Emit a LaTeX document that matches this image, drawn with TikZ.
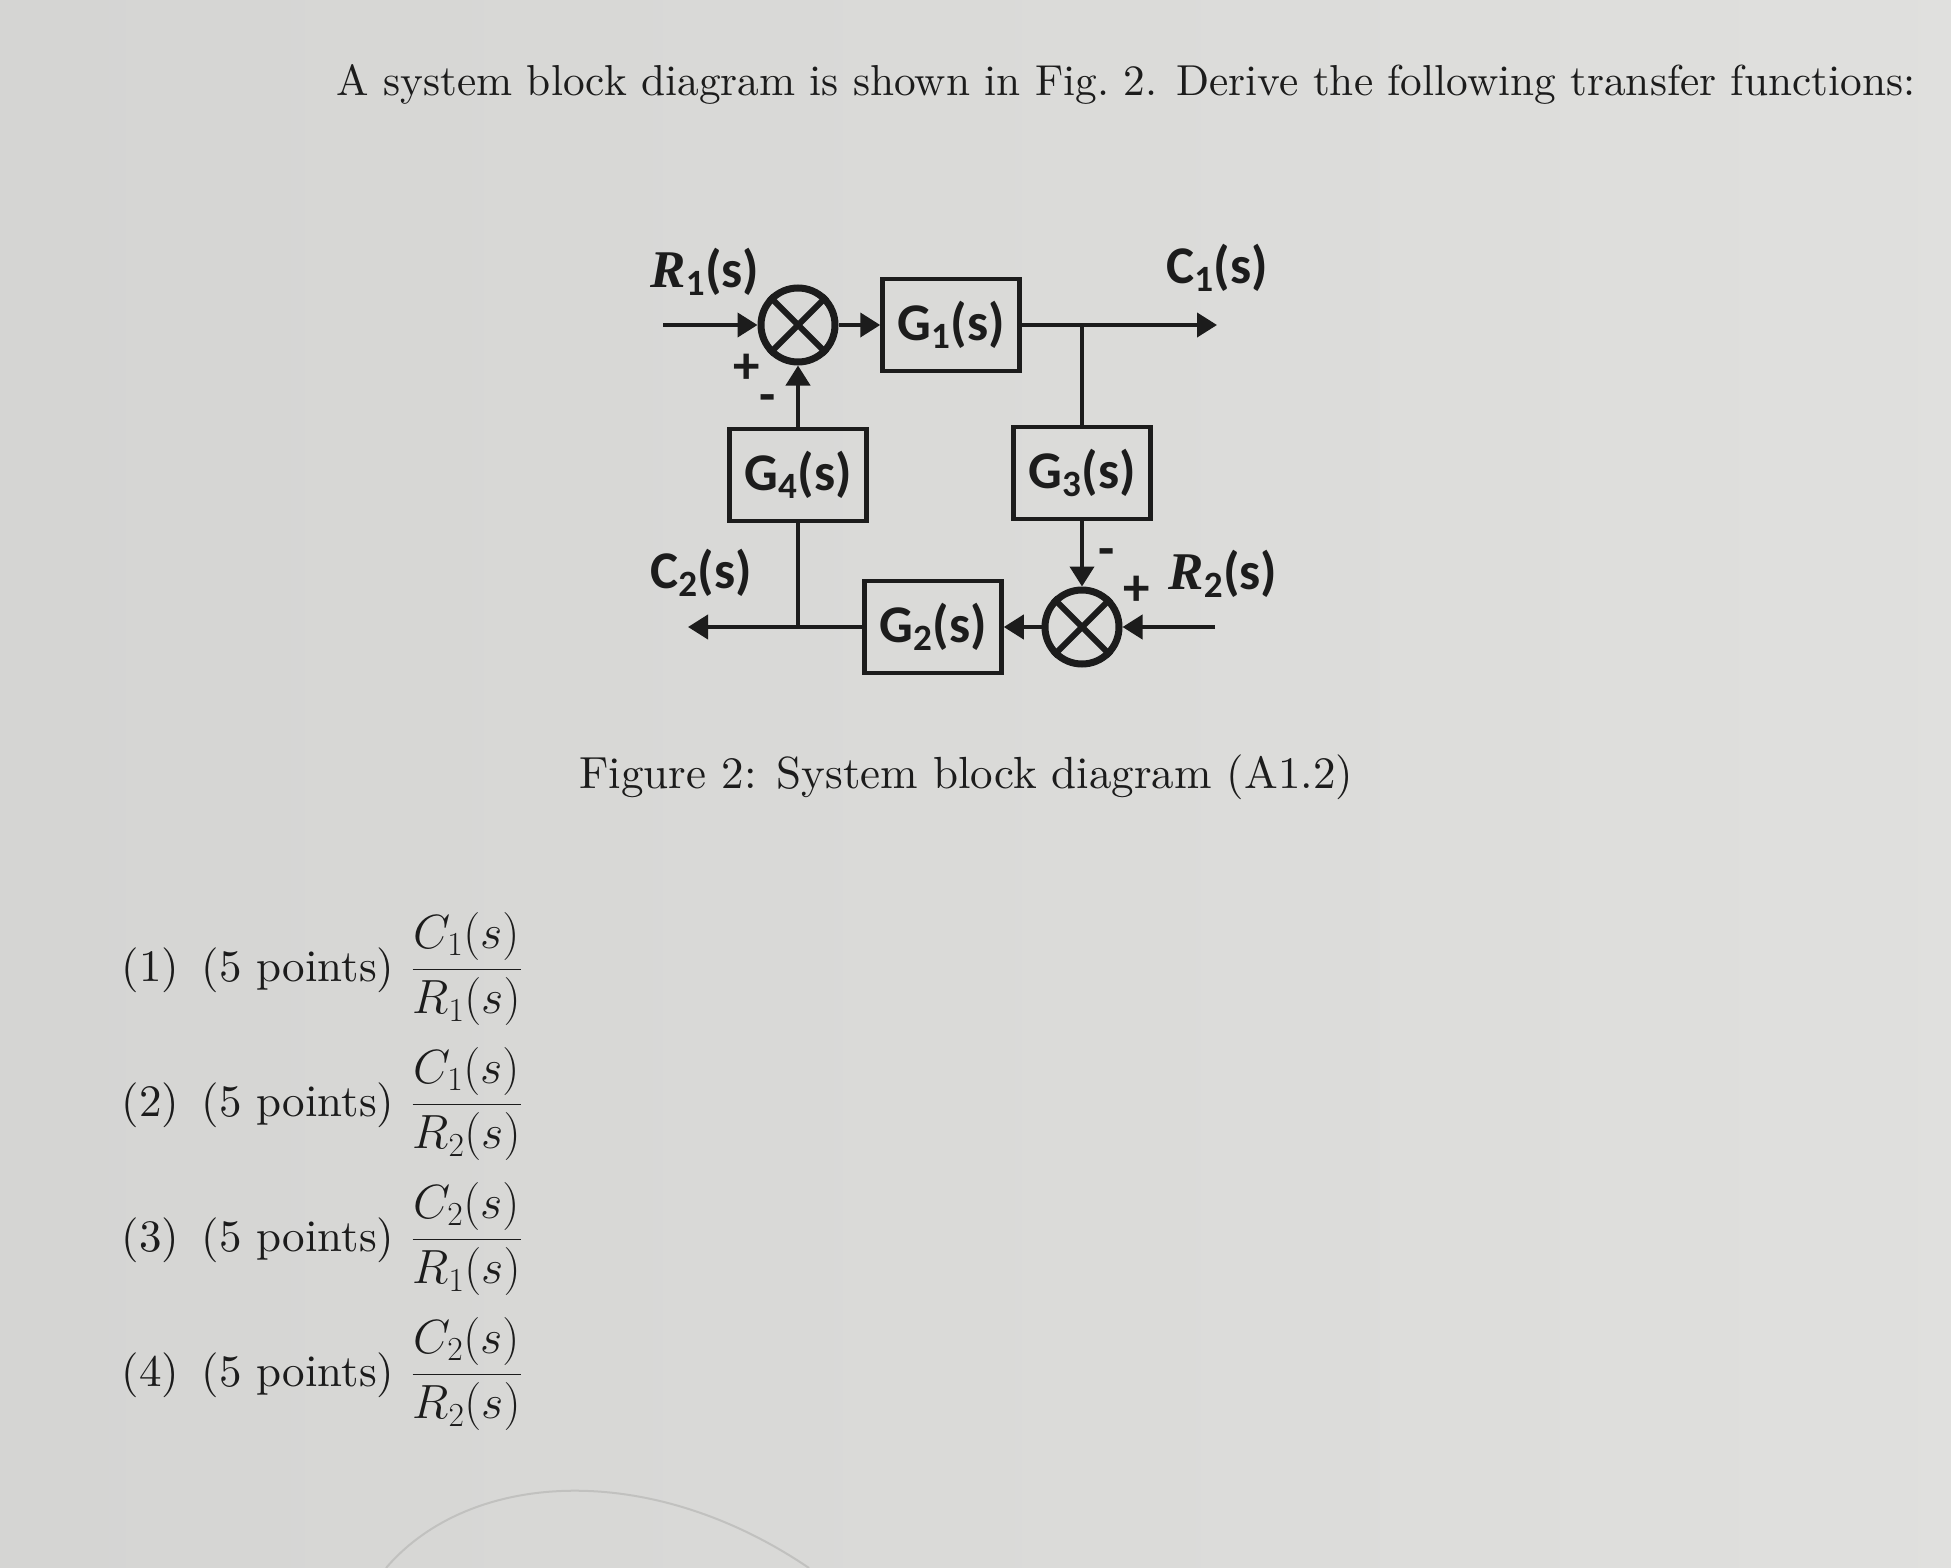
\RequirePackage{fix-cm}
\documentclass[tikz,border=0pt]{standalone}
\usepackage{amsmath}
\usepackage{fontspec}
\setmainfont{lmroman10-regular.otf}[ItalicFont=lmroman10-italic.otf, BoldFont=lmroman10-bold.otf]
\newfontfamily\diagfont{Carlito}
\newfontfamily\diagserif{Liberation Serif}
\usetikzlibrary{arrows.meta}
\definecolor{paper}{RGB}{224,224,222}
\definecolor{ink}{RGB}{28,28,28}

\begin{document}
\begin{tikzpicture}[x=1pt, y=-1pt,
        block/.style={draw=ink, line width=4.5pt, minimum width=137pt, minimum height=92pt, inner sep=0pt},
        junction/.style={draw=ink, circle, line width=7pt, minimum size=74pt, inner sep=0pt},
        flow/.style={draw=ink, line width=4pt, -{Triangle[length=20pt, width=24pt]}},
        wire/.style={draw=ink, line width=4pt}]
        \tikzstyle{diag}=[font=\diagfont\bfseries\fontsize{53}{56}\selectfont, text=ink]
        \tikzstyle{sheet}=[font=\fontsize{45}{54}\selectfont, text=ink]
        \tikzstyle{ratio}=[font=\fontsize{48}{56}\selectfont, text=ink]
        \useasboundingbox[left color=paper!95!black, right color=paper!101!white] (0,0) rectangle (1951,1568);
        \draw[paper!86!black, line width=2pt] (386,1568) .. controls (470,1470) and (650,1460) .. (809,1568);

        \node[sheet, anchor=base west, font=\fontsize{43.3}{52}\selectfont] (title) at (333, 96) {A system block diagram is shown in Fig.~2. Derive the following transfer functions:};

        \node[junction]       (s1) at (798,  325) {};
        \node[block, diag]    (g1) at (951,  325) {G\textsubscript{1}(s)};
        \node[block, diag]    (g4) at (798,  475) {G\textsubscript{4}(s)};
        \node[block, diag]    (g3) at (1082, 473) {G\textsubscript{3}(s)};
        \node[block, diag]    (g2) at (933,  627) {G\textsubscript{2}(s)};
        \node[junction]       (s2) at (1082, 627) {};
        \coordinate (in1)  at (663,  325);
        \coordinate (out1) at (1217, 325);
        \coordinate (in2)  at (1215, 627);
        \coordinate (out2) at (688,  627);

        \draw[ink, line width=6pt] (s1.north east) -- (s1.south west) (s1.north west) -- (s1.south east);
        \draw[ink, line width=6pt] (s2.north east) -- (s2.south west) (s2.north west) -- (s2.south east);

        \draw[flow] (in1) -- (s1);
        \draw[flow] (s1) -- (g1);
        \draw[flow] (g1) -- (out1);
        \draw[wire] (g3) -- (g3 |- g1);
        \draw[flow] (g3) -- (s2);
        \draw[flow] (in2) -- (s2);
        \draw[flow] (s2) -- (g2);
        \draw[flow] (g2) -- (out2);
        \draw[wire] (g4) -- (g4 |- g2);
        \draw[flow] (g4) -- (s1);

        \node[diag] (r1) at (705, 272) {{\diagserif\itshape R}\textsubscript{1}(s)};
        \node[diag] (c1) at (1217, 268) {C\textsubscript{1}(s)};
        \node[diag] (c2) at (701, 573) {C\textsubscript{2}(s)};
        \node[diag] (r2) at (1223, 574) {{\diagserif\itshape R}\textsubscript{2}(s)};
        \node[diag] (p1) at (747, 369) {+};
        \node[diag] (m1) at (768, 404) {-};
        \node[diag] (m2) at (1107, 558) {-};
        \node[diag] (p2) at (1137, 591) {+};

        \node[sheet, anchor=base west] (caption) at (576, 788) {Figure 2: System block diagram (A1.2)};

        \node[sheet, anchor=base west] (n1) at (118, 981)  {(1)};
        \node[sheet, anchor=base west] (t1) at (198, 981)  {(5 points)};
        \node[ratio, anchor=base west] (f1) at (408, 981)  {$\dfrac{C_1(s)}{R_1(s)}$};
        \node[sheet, anchor=base west] (n2) at (118, 1116) {(2)};
        \node[sheet, anchor=base west] (t2) at (198, 1116) {(5 points)};
        \node[ratio, anchor=base west] (f2) at (408, 1116) {$\dfrac{C_1(s)}{R_2(s)}$};
        \node[sheet, anchor=base west] (n3) at (118, 1251) {(3)};
        \node[sheet, anchor=base west] (t3) at (198, 1251) {(5 points)};
        \node[ratio, anchor=base west] (f3) at (408, 1251) {$\dfrac{C_2(s)}{R_1(s)}$};
        \node[sheet, anchor=base west] (n4) at (118, 1386) {(4)};
        \node[sheet, anchor=base west] (t4) at (198, 1386) {(5 points)};
        \node[ratio, anchor=base west] (f4) at (408, 1386) {$\dfrac{C_2(s)}{R_2(s)}$};
    \end{tikzpicture}
\end{document}
